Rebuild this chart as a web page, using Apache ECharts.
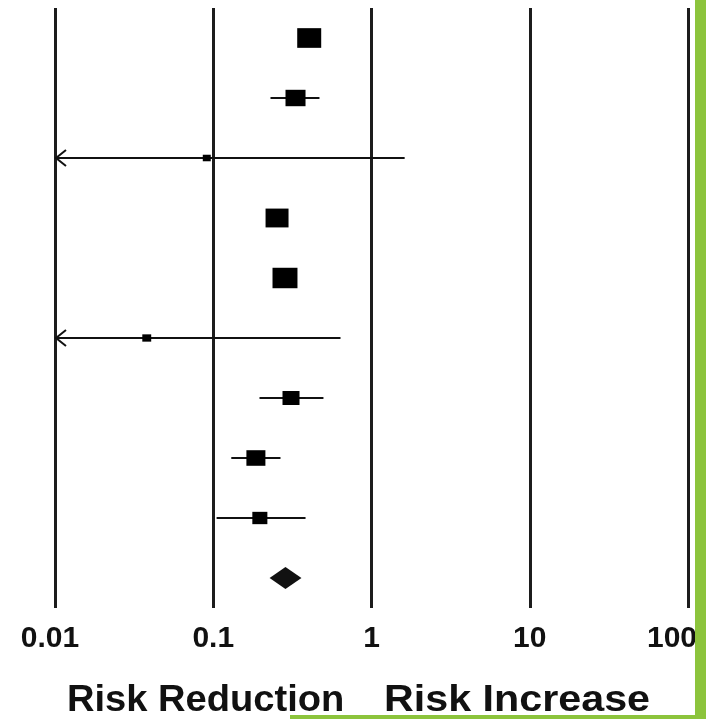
<!DOCTYPE html>
<html>
<head>
<meta charset="utf-8">
<script src="https://cdn.jsdelivr.net/npm/echarts@6/dist/echarts.min.js"></script>
<style>
  html, body { margin: 0; padding: 0; background: #ffffff; }
  #chart { width: 706px; height: 719px; }
</style>
</head>
<body>
<div id="chart"></div>
<script>
// Forest plot: relative risk per study with 95% CI, pooled estimate last.
const studies = ['Study 1', 'Study 2', 'Study 3', 'Study 4', 'Study 5',
                 'Study 6', 'Study 7', 'Study 8', 'Study 9', 'Pooled'];
const estimates = [0.404, 0.331, 0.091, 0.253, 0.284, 0.038, 0.310, 0.186, 0.197, 0.286];
const lowerCI   = [0.370, 0.230, 0.005, 0.235, 0.262, 0.005, 0.196, 0.130, 0.105, 0.227];
const upperCI   = [0.440, 0.469, 1.620, 0.272, 0.308, 0.637, 0.497, 0.266, 0.383, 0.361];
// study weights (%); the pooled row has none and is drawn as a diamond
const weights   = [14.5, 10.1, 1.6, 13.3, 15.7, 2.0, 7.3, 9.1, 5.7, null];
const tickValues = [0.01, 0.1, 1, 10, 100];
const tickLabels = ['0.01', '0.1', '1', '10', '100'];
const sideLabels = ['Risk Reduction', 'Risk Increase'];

const AXIS_MIN = tickValues[0];
const AXIS_MAX = tickValues[tickValues.length - 1];
const INK = '#111111';
const GREEN = '#8cc43c';

const rows = studies.map((s, i) => [estimates[i], i, lowerCI[i], upperCI[i], weights[i] == null ? 0 : weights[i]]);

function renderItem(params, api) {
  const est = api.value(0);
  const idx = api.value(1);
  const lo = api.value(2);
  const hi = api.value(3);
  const w = api.value(4);
  const cs = params.coordSys;
  const p = api.coord([est, idx]);
  const y = p[1];
  const clipped = lo < AXIS_MIN;
  const xl = clipped ? cs.x : api.coord([lo, idx])[0];
  const xh = api.coord([hi, idx])[0];
  const children = [];

  if (idx === studies.length - 1) {
    const hh = 11;
    children.push({
      type: 'polygon',
      shape: { points: [[xl, y], [p[0], y - hh], [xh, y], [p[0], y + hh]] },
      style: { fill: INK }
    });
    return { type: 'group', children: children };
  }

  children.push({
    type: 'line',
    shape: { x1: xl, y1: y, x2: xh, y2: y },
    style: { stroke: INK, lineWidth: 2 }
  });
  if (clipped) {
    children.push({
      type: 'polyline',
      shape: { points: [[xl + 11, y - 8], [xl + 1, y], [xl + 11, y + 8]] },
      style: { stroke: INK, lineWidth: 2, fill: null }
    });
  }
  const bw = 6.3 * Math.sqrt(w);
  const bh = bw * 0.82;
  children.push({
    type: 'rect',
    shape: { x: p[0] - bw / 2, y: y - bh / 2, width: bw, height: bh },
    style: { fill: '#000000' }
  });
  return { type: 'group', children: children };
}

const chart = echarts.init(document.getElementById('chart'), null, { renderer: 'canvas' });

const labelFont = {
  color: INK,
  fontFamily: 'Liberation Sans, Arial, sans-serif',
  fontWeight: 'bold',
  fontSize: 30,
  lineHeight: 30
};

chart.setOption({
  backgroundColor: '#ffffff',
  animation: false,
  grid: { left: 55, right: 18, top: 8, bottom: 111, containLabel: false, outerBoundsMode: 'none' },
  xAxis: {
    type: 'log',
    logBase: 10,
    min: AXIS_MIN,
    max: AXIS_MAX,
    axisLine: { show: false },
    axisTick: { show: false },
    splitLine: { show: true, lineStyle: { color: '#1c1c1c', width: 3 } },
    axisLabel: Object.assign({
      show: true,
      margin: 16,
      showMinLabel: true,
      showMaxLabel: true,
      rich: {
        first: Object.assign({ padding: [0, 10, 0, 0] }, labelFont),
        mid: Object.assign({}, labelFont),
        last: Object.assign({ padding: [0, 32, 0, 0] }, labelFont)
      },
      formatter: function (v) {
        const k = tickValues.findIndex(t => Math.abs(Math.log10(t) - Math.log10(v)) < 1e-6);
        if (k < 0) return '';
        const style = k === 0 ? 'first' : (k === tickValues.length - 1 ? 'last' : 'mid');
        return '{' + style + '|' + tickLabels[k] + '}';
      }
    }, labelFont)
  },
  yAxis: {
    type: 'category',
    data: studies,
    inverse: true,
    show: false
  },
  series: [{
    type: 'custom',
    renderItem: renderItem,
    encode: { x: 0, y: 1 },
    data: rows,
    z: 10
  }],
  graphic: [
    {
      type: 'text', x: 67, y: 682, z: 5, scaleX: 1.03,
      style: { text: sideLabels[0], fill: INK, font: 'bold 37px "Liberation Sans", Arial, sans-serif' }
    },
    {
      type: 'text', x: 384, y: 682, z: 5, scaleX: 1.115,
      style: { text: sideLabels[1], fill: INK, font: 'bold 37px "Liberation Sans", Arial, sans-serif' }
    },
    { type: 'rect', z: 100, shape: { x: 695, y: 0, width: 11, height: 719 }, style: { fill: GREEN } },
    { type: 'rect', z: 100, shape: { x: 290, y: 715, width: 416, height: 4 }, style: { fill: GREEN } }
  ]
});
</script>
</body>
</html>
